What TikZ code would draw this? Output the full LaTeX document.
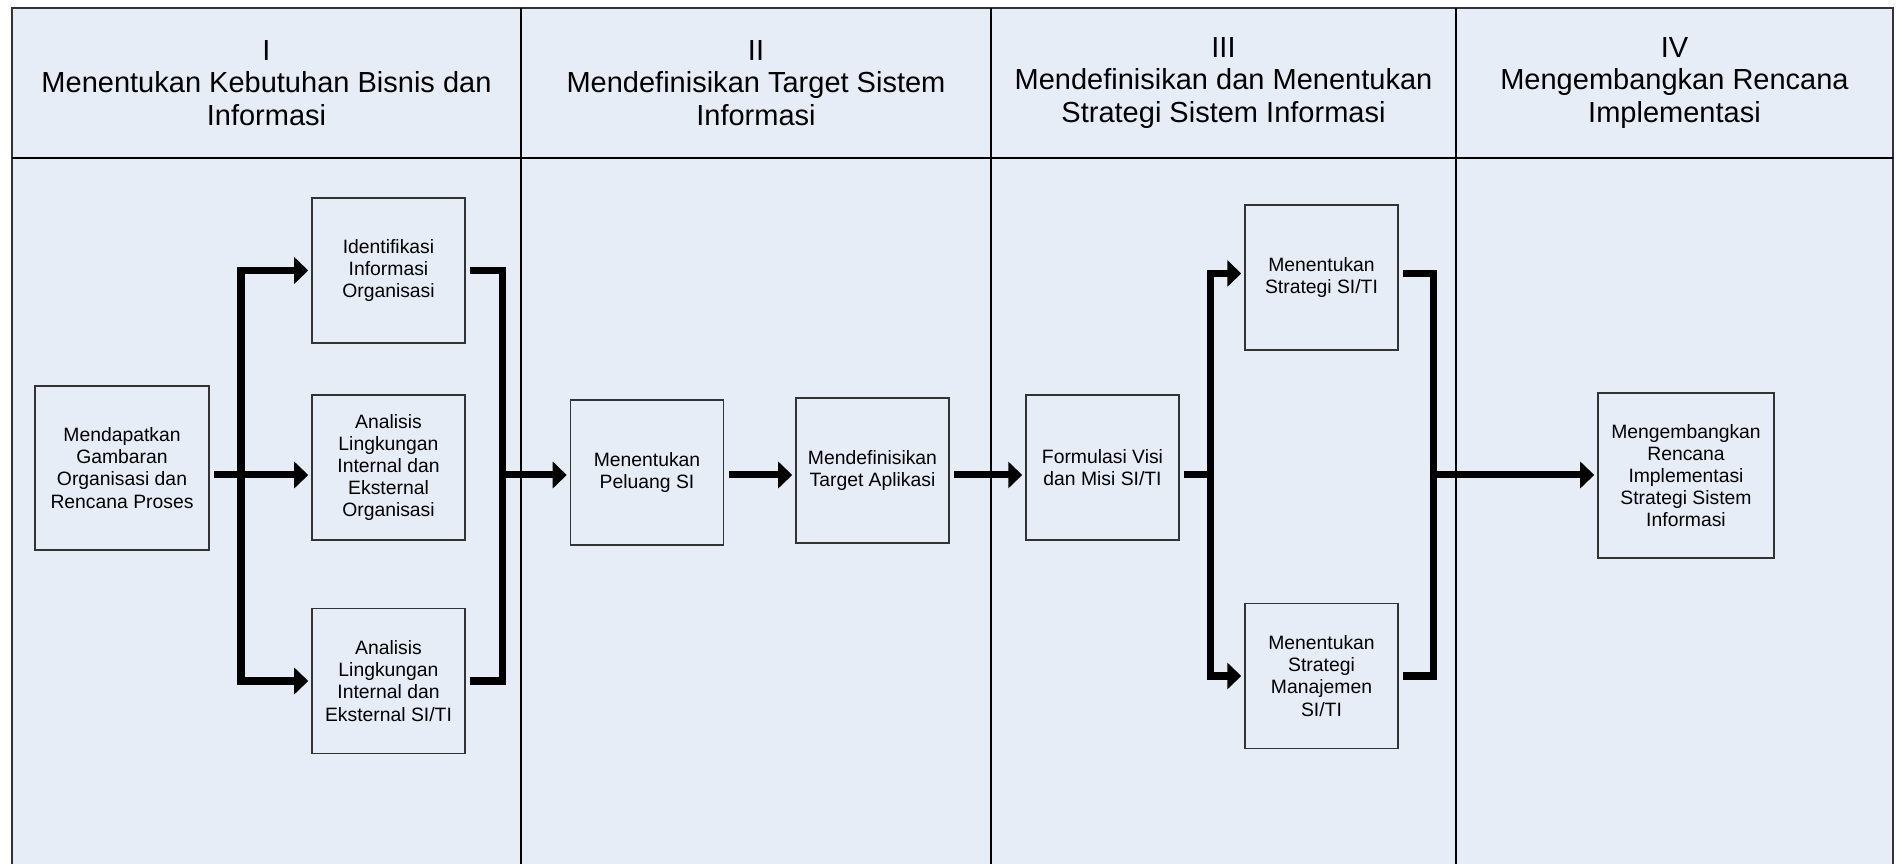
\documentclass[tikz,border=0pt]{standalone}
\usepackage{fontspec}
\setmainfont{Liberation Sans}
\usetikzlibrary{arrows.meta}
\definecolor{lane}{RGB}{230,237,247}

\begin{document}
\begin{tikzpicture}[x=0.01cm, y=-0.01cm,
	box/.style={draw=black!80, line width=0.4pt, fill=lane, align=center, inner sep=0pt, minimum width=1.53cm, minimum height=1.45cm, font=\fontsize{5.5}{6.3}\selectfont},
	head/.style={align=center, font=\fontsize{8.25}{9.25}\selectfont},
	conn/.style={line width=0.07cm},
	gap/.style={shorten <=0.045cm},
	flow/.style={conn, -{Triangle[width=0.26cm,length=0.14cm]}, shorten >=0.03cm}]
	\clip (0,0) rectangle (1896,864);
	% swimlanes
	\filldraw[fill=lane, draw=black!80, line width=0.5pt] (12,8) rectangle (1893,880);
	\draw[line width=0.5pt] (12,158) -- (1893,158);
	\foreach \x in {521,991,1456}
		\draw[line width=0.5pt] (\x,8) -- (\x,880);
	\node[head] (h1) at (266.5,83) {I\\Menentukan Kebutuhan Bisnis dan\\Informasi};
	\node[head] (h2) at (756,83) {II\\Mendefinisikan Target Sistem\\Informasi};
	\node[head] (h3) at (1223.5,83) {III\\Mendefinisikan dan Menentukan\\Strategi Sistem Informasi};
	\node[head] (h4) at (1674.5,83) {IV\\Mengembangkan Rencana\\Implementasi};

	% boxes
	\node[box, minimum width=1.74cm, minimum height=1.64cm] (mendapat) at (122,468) {Mendapatkan\\Gambaran\\Organisasi dan\\Rencana Proses};
	\node[box] (identif) at (388.5,270.5) {Identifikasi\\Informasi\\Organisasi};
	\node[box] (lingorg) at (388.5,467.5) {Analisis\\Lingkungan\\Internal dan\\Eksternal\\Organisasi};
	\node[box] (lingsi) at (388.5,681) {Analisis\\Lingkungan\\Internal dan\\Eksternal SI/TI};
	\node[box] (peluang) at (647,472.5) {Menentukan\\Peluang SI};
	\node[box] (target) at (872.5,470.5) {Mendefinisikan\\Target Aplikasi};
	\node[box] (visi) at (1102.5,467.5) {Formulasi Visi\\dan Misi SI/TI};
	\node[box] (strat) at (1321.5,277.5) {Menentukan\\Strategi SI/TI};
	\node[box] (manaj) at (1321.5,676) {Menentukan\\Strategi\\Manajemen\\SI/TI};
	\node[box, minimum width=1.76cm, minimum height=1.65cm] (rencana) at (1686,475.5) {Mengembangkan\\Rencana\\Implementasi\\Strategi Sistem\\Informasi};

	% forks and joins
	\coordinate (f1) at (241,475);
	\coordinate (j1) at (502,475);
	\coordinate (f2) at (1210,475);
	\coordinate (j2) at (1433,475);

	\draw[flow, gap] (mendapat.east |- f1) -- (lingorg.west |- f1);
	\draw[flow] (f1) |- (identif.west);
	\draw[flow] (f1) |- (lingsi.west);
	\draw[conn, gap] (identif.east) -| (j1);
	\draw[conn, gap] (lingsi.east) -| (j1);
	\draw[flow] (j1) -- (peluang.west |- j1);

	\draw[flow, gap] (peluang.east |- j1) -- (target.west |- j1);
	\draw[flow, gap] (target.east |- j1) -- (visi.west |- j1);

	\draw[conn, gap] (visi.east |- f2) -- (f2);
	\draw[flow] (f2) |- ([yshift=0.04cm]strat.west);
	\draw[flow] (f2) |- (manaj.west);
	\draw[conn, gap] ([yshift=0.04cm]strat.east) -| (j2);
	\draw[conn, gap] (manaj.east) -| (j2);
	\draw[flow] (j2) -- (rencana.west |- j2);
\end{tikzpicture}
\end{document}
